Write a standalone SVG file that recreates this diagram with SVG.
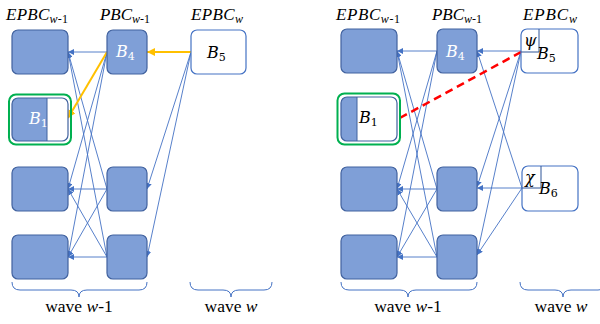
<svg xmlns="http://www.w3.org/2000/svg" width="600" height="324" viewBox="0 0 600 324">
<defs>
<style>
.bx{fill:#7f9fd7;stroke:#41629f;stroke-width:1.2}
.wb{fill:#ffffff;stroke:#4472c4;stroke-width:1.2}
.gr{fill:none;stroke:#00b050;stroke-width:2}
.cn{fill:none;stroke:#4472c4;stroke-width:0.9}
.or{fill:none;stroke:#ffc000;stroke-width:2}
.rd{fill:none;stroke:#ff0000;stroke-width:2.5;stroke-dasharray:8 5}
.br{fill:none;stroke:#4472c4;stroke-width:1}
.hd{font-family:"Liberation Serif","Times New Roman",serif;font-style:italic;font-size:17px;fill:#000}
.sb{font-size:12px}
.up{font-style:normal}
.lb{font-family:"DejaVu Serif","Liberation Serif",serif;font-style:italic;font-size:16px}
.ls{font-size:11px;font-style:normal}
.wv{font-family:"Liberation Serif","Times New Roman",serif;font-size:17.5px;fill:#000;text-anchor:middle}
.gk{font-family:"DejaVu Serif","Liberation Serif",serif;font-style:italic;font-size:16px;fill:#000}
.sm{fill:none;stroke:#2f5597;stroke-width:1}
</style>
<marker id="ab" viewBox="0 0 10 10" refX="10" refY="5" markerWidth="6" markerHeight="6" markerUnits="userSpaceOnUse" orient="auto"><path d="M0,0 L10,5 L0,10 z" fill="#4472c4"/></marker>
<marker id="ao" viewBox="0 0 10 10" refX="10" refY="5" markerWidth="8" markerHeight="8" markerUnits="userSpaceOnUse" orient="auto"><path d="M0,0 L10,5 L0,10 z" fill="#ffc000"/></marker>
</defs>

<!-- headers -->
<g id="headers">
<text class="hd" x="6" y="20" textLength="62">EPBC<tspan class="sb" dy="3">w</tspan><tspan class="sb up">-1</tspan></text>
<text class="hd" x="100" y="20" textLength="50">PBC<tspan class="sb" dy="3">w</tspan><tspan class="sb up">-1</tspan></text>
<text class="hd" x="191" y="20" textLength="52">EPBC<tspan class="sb" dy="3">w</tspan></text>
<text class="hd" x="336" y="20" textLength="64">EPBC<tspan class="sb" dy="3">w</tspan><tspan class="sb up">-1</tspan></text>
<text class="hd" x="432" y="20" textLength="50">PBC<tspan class="sb" dy="3">w</tspan><tspan class="sb up">-1</tspan></text>
<text class="hd" x="523" y="20" textLength="54">EPBC<tspan class="sb" dy="3">w</tspan></text>
</g>

<!-- connectors -->
<g id="connectors">
<!-- left panel -->
<line class="cn" x1="107" y1="52" x2="68" y2="52" marker-end="url(#ab)"/>
<line class="cn" x1="107" y1="52" x2="68" y2="189" marker-end="url(#ab)"/>
<line class="cn" x1="107" y1="52" x2="68" y2="257" marker-end="url(#ab)"/>
<line class="cn" x1="107" y1="189" x2="68" y2="52" marker-end="url(#ab)"/>
<line class="cn" x1="107" y1="189" x2="68" y2="189" marker-end="url(#ab)"/>
<line class="cn" x1="107" y1="189" x2="68" y2="257" marker-end="url(#ab)"/>
<line class="cn" x1="107" y1="257" x2="68" y2="52" marker-end="url(#ab)"/>
<line class="cn" x1="107" y1="257" x2="68" y2="189" marker-end="url(#ab)"/>
<line class="cn" x1="107" y1="257" x2="68" y2="257" marker-end="url(#ab)"/>
<line class="cn" x1="191" y1="52" x2="147" y2="189" marker-end="url(#ab)"/>
<line class="cn" x1="191" y1="52" x2="147" y2="257" marker-end="url(#ab)"/>
<line class="or" x1="191" y1="52" x2="147" y2="52" marker-end="url(#ao)"/>
<line class="or" x1="107" y1="52" x2="68" y2="118" marker-end="url(#ao)"/>
<!-- right panel -->
<line class="cn" x1="437" y1="51" x2="397" y2="51" marker-end="url(#ab)"/>
<line class="cn" x1="437" y1="51" x2="397" y2="189" marker-end="url(#ab)"/>
<line class="cn" x1="437" y1="51" x2="397" y2="257" marker-end="url(#ab)"/>
<line class="cn" x1="437" y1="189" x2="397" y2="51" marker-end="url(#ab)"/>
<line class="cn" x1="437" y1="189" x2="397" y2="189" marker-end="url(#ab)"/>
<line class="cn" x1="437" y1="189" x2="397" y2="257" marker-end="url(#ab)"/>
<line class="cn" x1="437" y1="257" x2="397" y2="51" marker-end="url(#ab)"/>
<line class="cn" x1="437" y1="257" x2="397" y2="189" marker-end="url(#ab)"/>
<line class="cn" x1="437" y1="257" x2="397" y2="257" marker-end="url(#ab)"/>
<line class="cn" x1="521" y1="51" x2="477" y2="51" marker-end="url(#ab)"/>
<line class="cn" x1="521" y1="51" x2="477" y2="187" marker-end="url(#ab)"/>
<line class="cn" x1="521" y1="51" x2="477" y2="255" marker-end="url(#ab)"/>
<line class="cn" x1="522" y1="188" x2="477" y2="51" marker-end="url(#ab)"/>
<line class="cn" x1="522" y1="188" x2="477" y2="188" marker-end="url(#ab)"/>
<line class="cn" x1="522" y1="188" x2="477" y2="255" marker-end="url(#ab)"/>
<line class="rd" x1="521" y1="52" x2="398" y2="119"/>
</g>

<!-- left panel nodes -->
<g id="L-E1"><rect class="bx" x="12" y="30" width="56" height="44" rx="6"/></g>
<g id="L-B1">
<rect class="gr" x="9" y="94.5" width="62" height="50" rx="7"/>
<rect x="12" y="98" width="56" height="43" rx="6" fill="#ffffff"/>
<path d="M47,98 L18,98 A6,6 0 0 0 12,104 L12,135 A6,6 0 0 0 18,141 L47,141 Z" fill="#7f9fd7"/>
<line x1="47" y1="98" x2="47" y2="141" stroke="#41629f" stroke-width="1"/>
<rect x="12" y="98" width="56" height="43" rx="6" fill="none" stroke="#41629f" stroke-width="1.2"/>
<text class="lb" x="29" y="124" fill="#ffffff">B<tspan class="ls" dy="3">1</tspan></text>
</g>
<g id="L-E3"><rect class="bx" x="12" y="167" width="56" height="44" rx="6"/></g>
<g id="L-E4"><rect class="bx" x="12" y="235" width="56" height="44" rx="6"/></g>
<g id="L-B4"><rect class="bx" x="107" y="30" width="40" height="44" rx="6"/>
<text class="lb" x="116" y="57" fill="#ffffff">B<tspan class="ls" dy="3">4</tspan></text></g>
<g id="L-P2"><rect class="bx" x="107" y="167" width="40" height="44" rx="6"/></g>
<g id="L-P3"><rect class="bx" x="107" y="235" width="40" height="44" rx="6"/></g>
<g id="L-B5"><rect class="wb" x="191" y="30" width="55" height="44" rx="6"/>
<text class="lb" x="207" y="58" fill="#000000">B<tspan class="ls" dy="3">5</tspan></text></g>

<!-- right panel nodes -->
<g id="R-E1"><rect class="bx" x="341" y="29" width="56" height="44" rx="6"/></g>
<g id="R-B1">
<rect class="gr" x="337.5" y="93.5" width="62.5" height="51" rx="7"/>
<rect x="341" y="97" width="56" height="44" rx="6" fill="#ffffff"/>
<path d="M357,97 L347,97 A6,6 0 0 0 341,103 L341,135 A6,6 0 0 0 347,141 L357,141 Z" fill="#7f9fd7"/>
<line x1="357" y1="97" x2="357" y2="141" stroke="#41629f" stroke-width="1"/>
<rect x="341" y="97" width="56" height="44" rx="6" fill="none" stroke="#41629f" stroke-width="1.2"/>
<text class="lb" x="359" y="123" fill="#000000">B<tspan class="ls" dy="3">1</tspan></text>
</g>
<g id="R-E3"><rect class="bx" x="341" y="167" width="56" height="44" rx="6"/></g>
<g id="R-E4"><rect class="bx" x="341" y="235" width="56" height="44" rx="6"/></g>
<g id="R-B4"><rect class="bx" x="437" y="29" width="40" height="44" rx="6"/>
<text class="lb" x="446" y="57" fill="#ffffff">B<tspan class="ls" dy="3">4</tspan></text></g>
<g id="R-P2"><rect class="bx" x="437" y="167" width="40" height="44" rx="6"/></g>
<g id="R-P3"><rect class="bx" x="437" y="235" width="40" height="44" rx="6"/></g>
<g id="R-B5"><rect class="wb" x="521" y="29" width="57" height="44" rx="6"/>
<path class="sm" d="M539,29 L539,52 L521,52"/>
<text class="gk" x="524" y="46">ψ</text>
<text class="lb" x="537" y="59" fill="#000000">B<tspan class="ls" dy="3">5</tspan></text></g>
<g id="R-B6"><rect class="wb" x="522" y="166" width="56" height="45" rx="6"/>
<path class="sm" d="M541,166 L541,188 L522,188"/>
<text class="gk" x="525" y="183">χ</text>
<text class="lb" x="539" y="194" fill="#000000">B<tspan class="ls" dy="3">6</tspan></text></g>

<!-- braces and wave labels -->
<g id="braces">
<path class="br" d="M12,282 Q12,290 20,290 L71,290 Q79,290 79,297 Q79,290 87,290 L139,290 Q147,290 147,282"/>
<path class="br" d="M190,282 Q190,290 198,290 L223,290 Q231,290 231,297 Q231,290 239,290 L264,290 Q272,290 272,282"/>
<path class="br" d="M341,282 Q341,290 349,290 L400,290 Q408,290 408,297 Q408,290 416,290 L469,290 Q477,290 477,282"/>
<path class="br" d="M520,282 Q520,290 528,290 L555,290 Q563,290 563,297 Q563,290 571,290 L598,290 Q606,290 606,282"/>
<text class="wv" x="79" y="312">wave <tspan font-style="italic">w</tspan>-1</text>
<text class="wv" x="231" y="312">wave <tspan font-style="italic">w</tspan></text>
<text class="wv" x="408" y="312">wave <tspan font-style="italic">w</tspan>-1</text>
<text class="wv" x="561" y="312">wave <tspan font-style="italic">w</tspan></text>
</g>
</svg>
